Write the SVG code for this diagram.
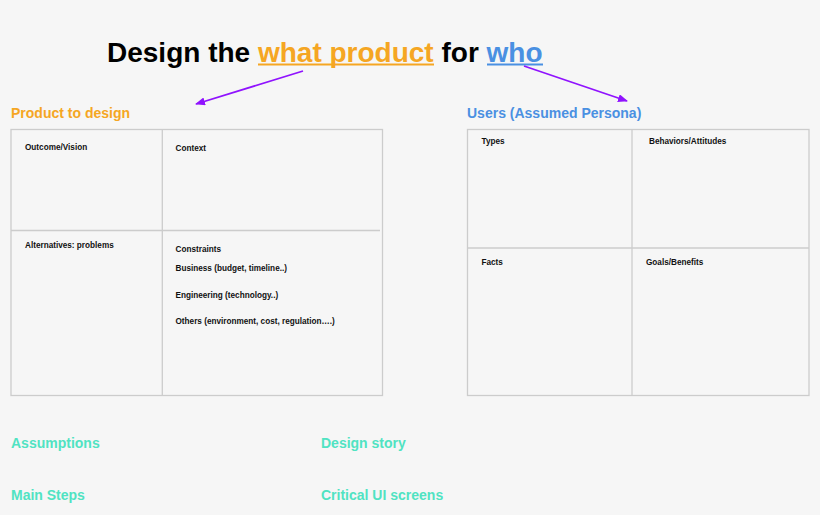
<svg xmlns="http://www.w3.org/2000/svg" width="820" height="515" viewBox="0 0 820 515">
<style>
  text { font-family: "Liberation Sans", Arial, sans-serif; font-weight: bold; }
  .title { font-size: 28px; fill: #000; }
  .orange { fill: #F5A623; }
  .blue { fill: #4A90E2; }
  .teal { fill: #50E3C2; font-size: 14px; }
  .head { font-size: 14px; }
  .cell { font-size: 8.2px; fill: #111; }
  .grid { stroke: #cccccc; stroke-width: 1.3; fill: none; }
  .arrow { stroke: #9013FE; stroke-width: 1.8; fill: none; }
</style>
<defs>
  <marker id="ah" markerUnits="userSpaceOnUse" markerWidth="10" markerHeight="8" refX="9" refY="4" orient="auto">
    <path d="M0,0 L10,4 L0,8 Z" fill="#9013FE"/>
  </marker>
</defs>
<rect x="0" y="0" width="820" height="515" fill="#f6f6f6"/>

<g id="title">
  <text class="title" x="107" y="62">Design the <tspan class="orange">what product</tspan> for <tspan class="blue">who</tspan></text>
  <line x1="258" y1="64.5" x2="434" y2="64.5" stroke="#F5A623" stroke-width="2"/>
  <line x1="487" y1="64.5" x2="543" y2="64.5" stroke="#4A90E2" stroke-width="2"/>
</g>

<g id="connectors">
  <line class="arrow" x1="303" y1="71" x2="196" y2="104" marker-end="url(#ah)"/>
  <line class="arrow" x1="524" y1="66" x2="627" y2="101" marker-end="url(#ah)"/>
</g>

<g id="product">
  <text class="head orange" x="11" y="118">Product to design</text>
  <rect class="grid" x="11" y="129.5" width="371.5" height="266"/>
  <line class="grid" x1="162.3" y1="129.5" x2="162.3" y2="395.5"/>
  <line class="grid" x1="11" y1="230.5" x2="380" y2="230.5"/>
  <text class="cell" x="25" y="150">Outcome/Vision</text>
  <text class="cell" x="175.5" y="151">Context</text>
  <text class="cell" x="25" y="247.5">Alternatives: problems</text>
  <text class="cell" x="175.5" y="252">Constraints</text>
  <text class="cell" x="175.5" y="271">Business (budget, timeline..)</text>
  <text class="cell" x="175.5" y="298">Engineering (technology..)</text>
  <text class="cell" x="175.5" y="324">Others (environment, cost, regulation….)</text>
</g>

<g id="users">
  <text class="head blue" x="467" y="118">Users (Assumed Persona)</text>
  <rect class="grid" x="467.5" y="129.5" width="341.5" height="266"/>
  <line class="grid" x1="632" y1="129.5" x2="632" y2="395.5"/>
  <line class="grid" x1="467.5" y1="248" x2="809" y2="248"/>
  <text class="cell" x="481.5" y="144">Types</text>
  <text class="cell" x="649" y="144">Behaviors/Attitudes</text>
  <text class="cell" x="481.5" y="265">Facts</text>
  <text class="cell" x="646" y="265">Goals/Benefits</text>
</g>

<g id="sections">
  <text class="teal" x="11" y="448">Assumptions</text>
  <text class="teal" x="321" y="448">Design story</text>
  <text class="teal" x="11" y="500">Main Steps</text>
  <text class="teal" x="321" y="500">Critical UI screens</text>
</g>
</svg>
